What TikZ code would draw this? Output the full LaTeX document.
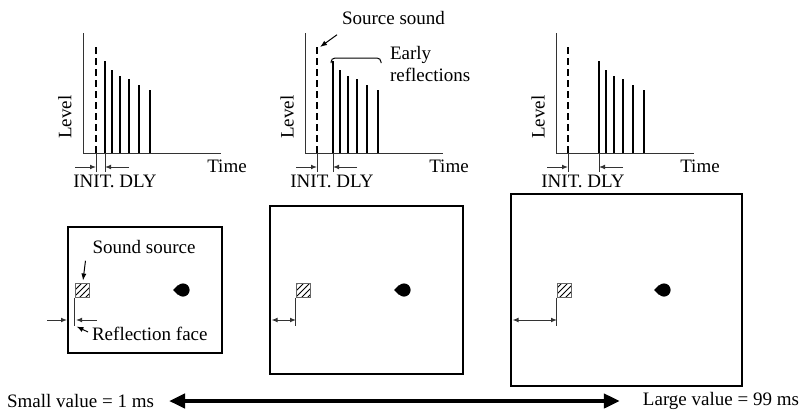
\documentclass[tikz,border=0pt]{standalone}
\usepackage{fontspec}
\setmainfont{Liberation Serif}
\usetikzlibrary{arrows.meta,patterns,positioning,calc}

\begin{document}
\begin{tikzpicture}[
    x=0.5pt, y=-0.5pt,
    font=\fontsize{9.5}{11}\selectfont,
    axis/.style={draw=black!80, line width=0.5pt},
    spike/.style={line width=1pt},
    direct/.style={line width=1pt, dash pattern=on 3.5pt off 2pt},
    dim/.style={draw=black!80, line width=0.5pt, -{Latex[length=3pt,width=2.4pt]}},
    dimboth/.style={draw=black!80, line width=0.5pt, {Latex[length=3pt,width=2.4pt]}-{Latex[length=3pt,width=2.4pt]}},
    pointer/.style={line width=0.5pt, -{Latex[length=3.5pt,width=2.6pt]}},
    room/.style={draw, line width=1.3pt},
    source/.style={draw=black!60, line width=0.5pt, pattern=north east lines, minimum size=7pt, inner sep=0pt},
    listener/.style={circle, fill=black, minimum size=6.6pt, inner sep=0pt},
    big/.style={line width=2pt, {Triangle[length=8pt,width=7pt]}-{Triangle[length=8pt,width=7pt]}}
]
    \useasboundingbox (0,0) rectangle (806,413);

    % Level / time graphs
    \foreach \ax/\dl/\rf/\tx [count=\i] in {83/96/105/115, 305/317/333/332, 556/568/599/583} {
        \draw[axis] (\ax,33) -- (\ax,153) -- ++(138,0);
        \node[rotate=90] (level\i) at (\ax-18,117) {Level};
        \node (time\i) at (\ax+144,166) {Time};
        \coordinate (dtop\i) at (\dl,47);
        \draw[direct] (dtop\i) -- (\dl,153);
        \foreach \dx/\top in {0/61, 7/70, 15/76, 23.5/79, 34/85, 45/90}
            \draw[spike] (\rf+\dx,153) -- (\rf+\dx,\top);
        % INIT. DLY
        \draw[axis] (\dl,153) -- (\dl,172);
        \draw[axis] (\rf,153) -- (\rf,172);
        \draw[dim] (\dl-21,167) -- (\dl,167);
        \draw[dim] (\rf+24,167) -- (\rf,167);
        \node (dly\i) at (\tx,181) {INIT. DLY};
    }

    % Labels of the middle graph
    \node[anchor=west] (srclbl) at (335,18) {Source sound};
    \draw[pointer] ($(srclbl.south west)+(2,3)$) -- ($(dtop2)+(3,0)$);
    \draw[line width=0.5pt, rounded corners=2pt] (331,63) |- (381,58) -- (381,63);
    \node[anchor=west, align=left] (early) at (383,64) {Early\\reflections};

    % Rooms
    \draw[room] (68,227) rectangle (222,353);
    \draw[room] (270,206) rectangle (463,374);
    \draw[room] (511,194) rectangle (742,386);

    \foreach \sx/\lx/\i in {82/183/1, 303/404/2, 564/664/3} {
        \node[source] (src\i) at (\sx,290) {};
        \node[listener] (lis\i) at (\lx,290) {};
        \fill ($(lis\i.west)+(-3,0)$) -- (lis\i.north west) -- (lis\i.south west) -- cycle;
        \coordinate (face\i) at ($(src\i.south west)+(0,28)$);
        \draw[axis] (src\i.south west) -- (face\i);
    }

    % Room 1 labels
    \node (sndlbl) at (144,247) {Sound source};
    \draw[pointer] (sndlbl.south west) -- ($(src1.north)+(1,-2)$);
    \draw[dim] (47,320) -- (67,320);
    \draw[dim] (97,320) -- (76,320);
    \node[anchor=west] (refl) at (85,334) {Reflection face};
    \draw[pointer] ($(refl.west)+(3,-2)$) -- ($(face1)+(2,1)$);

    % Rooms 2 and 3
    \draw[dimboth] (271.5,320) -- (303-7,320);
    \draw[dimboth] (512.5,320) -- (564-7,320);

    % Value range
    \node[anchor=west] (small) at (0,401) {Small value = 1 ms};
    \node[anchor=east] (large) at (806,401) {Large value = 99 ms};
    \draw[big] ($(small.east)+(8,0)$) -- ($(large.west)+(-16,0)$);

\end{tikzpicture}
\end{document}
